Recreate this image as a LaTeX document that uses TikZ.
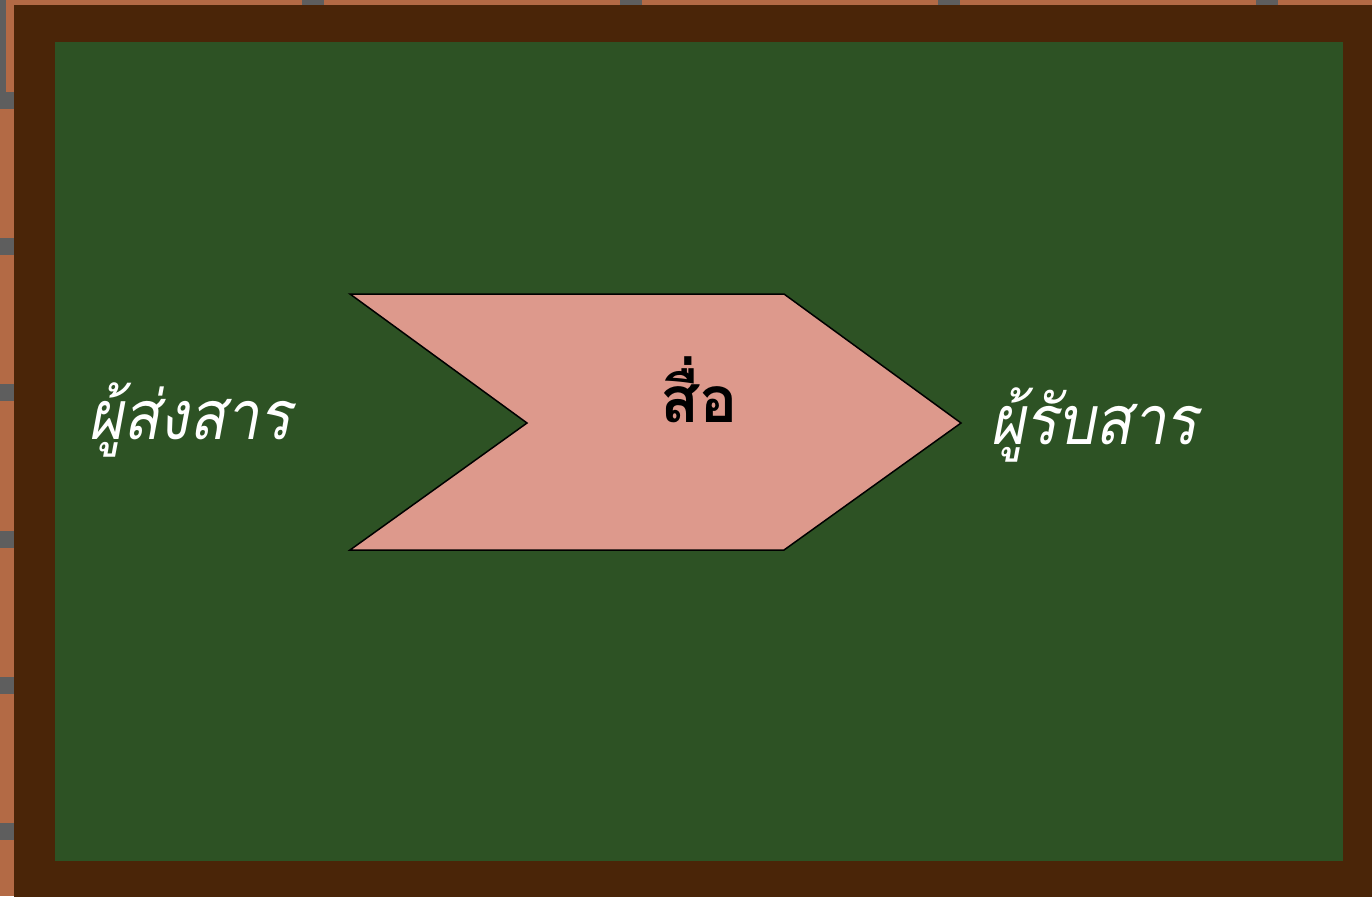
\documentclass[tikz,border=0pt]{standalone}
\usepackage{fontspec}
\newfontfamily\thaifont[Script=Thai]{Loma}
\newfontfamily\thainarrow[Script=Thai, FakeStretch=0.88]{Loma}
\usetikzlibrary{positioning}

\definecolor{brick}{RGB}{179,106,69}
\definecolor{mortar}{RGB}{94,94,94}
\definecolor{frameBrown}{RGB}{74,37,8}
\definecolor{board}{RGB}{45,82,36}
\definecolor{medium}{RGB}{221,153,140}

\begin{document}
\begin{tikzpicture}[
    x=0.5pt, y=-0.5pt,
    side_text/.style={
        text=white, inner sep=0pt,
        font=\thainarrow\itshape\fontsize{34}{40}\selectfont
    },
    medium_text/.style={
        text=black, inner sep=0pt,
        font=\thaifont\bfseries\fontsize{32}{38}\selectfont
    },
    chevron/.style={
        fill=medium, draw=black, line width=0.75pt, line join=miter
    }
]
    \useasboundingbox (0,0) rectangle (1372,896);
    \clip (0,0) rectangle (1372,896);

    % =========================================================================
    % WALL AND BOARD
    % =========================================================================
    \fill [brick] (0,0) rectangle (1372,896);
    \foreach \y in {100, 246, 392, 539, 685, 831} {
        \fill [mortar] (0,\y-8.5) rectangle (1372,\y+8.5);
    }
    \foreach \x in {-16, 302, 620, 938, 1256} {
        \fill [mortar] (\x,-10) rectangle (\x+22,92);
    }
    \fill [frameBrown] (14,5) rectangle (1400,930);
    \fill [board] (55,42) rectangle (1343,861);

    % =========================================================================
    % CHEVRON (MEDIUM)
    % =========================================================================
    \coordinate (ch_nw) at (350,294);
    \coordinate (ch_ne) at (784,294);
    \coordinate (ch_tip) at (961,423);
    \coordinate (ch_se) at (784,550);
    \coordinate (ch_sw) at (350,550);
    \coordinate (ch_notch) at (527,423);
    \draw [chevron] (ch_nw) -- (ch_ne) -- (ch_tip) -- (ch_se) -- (ch_sw) -- (ch_notch) -- cycle;

    \node [medium_text, anchor=base west] (medium) at (660,422) {สื่อ};

    % =========================================================================
    % SENDER AND RECEIVER
    % =========================================================================
    \node [side_text, anchor=base west] (sender) at (88,439) {ผู้ส่งสาร};
    \node [side_text, anchor=base west] (receiver) at (990,444) {ผู้รับสาร};

\end{tikzpicture}
\end{document}
